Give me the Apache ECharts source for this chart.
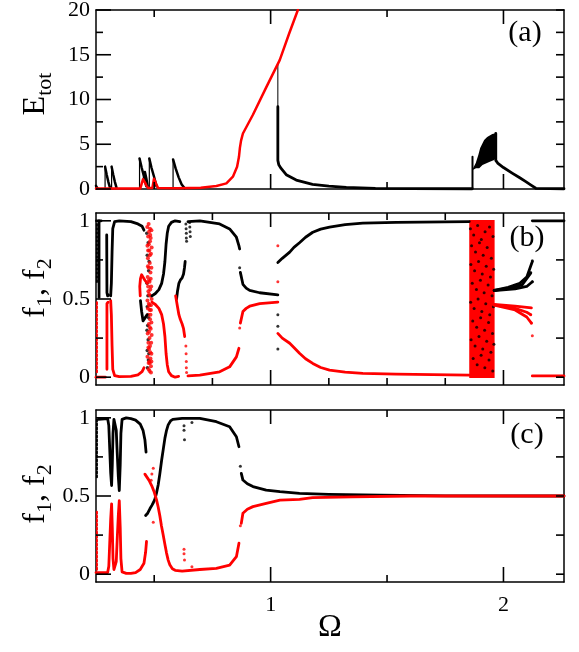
<!DOCTYPE html>
<html><head><meta charset="utf-8">
<script src="https://cdn.jsdelivr.net/npm/echarts@6/dist/echarts.min.js"></script>
<style>html,body{margin:0;padding:0;background:#fff}#c{width:579px;height:652px}</style>
</head><body><div id="c"></div>
<script>
// ---------------- axes / ticks ----------------
const omegaRange = [0.25, 2.26];
const xMajorTicks = [1, 2];
const xMinorTicksAC = [0.5, 1.5];
const xMinorTicksB = [0.5, 0.75, 1.25, 1.5, 1.75];
const eRange = [0, 20];
const eMajorTicks = [0, 5, 10, 15, 20];
const eMinorTicks = [2.5, 7.5, 12.5, 17.5];
const eRightTicks = [0, 2.5, 5, 7.5, 10, 12.5, 15, 17.5, 20];
const fRange = [-0.05, 1.05];
const fMajorTicks = [0, 0.5, 1];
const fMinorTicks = [0.25, 0.75];
const fRightTicks = [0, 0.25, 0.5, 0.75, 1];

// ---------------- panel (a): E_tot ----------------
const aBlackSpikes = [
  [[0.289,2.5],[0.296,1.6],[0.303,0.8],[0.31,0.15]],
  [[0.317,2.5],[0.324,1.6],[0.331,0.8],[0.338,0.15]],
  [[0.437,3.4],[0.446,2.4],[0.456,1.4],[0.466,0.3]],
  [[0.455,1.0],[0.46,1.9],[0.466,1.2],[0.472,0.3]],
  [[0.479,3.4],[0.488,2.4],[0.499,1.4],[0.51,0.3]],
  [[0.581,3.3],[0.592,2.3],[0.605,1.3],[0.618,0.5],[0.63,0.1]],
  [[0.25,0.35],[0.256,0.1]]
];
const aBlackRises = [
  [[0.289,0.1],[0.289,2.5]],
  [[0.317,0.1],[0.317,2.5]],
  [[0.437,0.1],[0.437,3.4]],
  [[0.479,0.1],[0.479,3.4]],
  [[0.581,0.1],[0.581,3.3]]
];
const aBlackDropThin = [[1.031,13.9],[1.031,9.2]];
const aBlackDrop = [[1.031,9.2],[1.031,3.2],[1.035,2.7],[1.045,2.3],[1.067,1.6],[1.11,1.0],[1.18,0.52],[1.25,0.32],[1.325,0.19],[1.45,0.08],[1.6,0.04],[1.866,0.03]];
const aBlackJump = [[1.867,0.1],[1.867,3.6]];
const aBlackLeaf = [[1.868,2.12],[1.882,2.31],[1.896,2.31],[1.910,2.68],[1.939,3.02],[1.960,3.24],[1.967,3.46],[1.967,6.22],[1.952,6.15],[1.930,5.81],[1.917,5.47],[1.900,4.58],[1.892,3.80],[1.881,2.90],[1.870,2.35]];
const aBlackTail = [[1.967,6.2],[1.967,3.2],[1.975,2.9],[2.0,2.4],[2.039,1.75],[2.07,1.25],[2.096,0.82],[2.12,0.4],[2.139,0.08],[2.26,0.03]];
const aRed = [[0.25,0.05],[0.44,0.05],[0.445,0.2],[0.452,1.1],[0.46,0.75],[0.467,0.35],[0.474,0.1],[0.492,0.1],[0.499,1.15],[0.505,0.8],[0.511,0.4],[0.517,0.1],[0.60,0.08],[0.70,0.15],[0.767,0.34],[0.81,0.63],[0.838,1.37],[0.856,2.49],[0.864,3.6],[0.868,4.6],[0.873,5.4],[0.881,6.2],[0.924,8.3],[0.98,11.3],[1.039,14.4],[1.08,17.4],[1.117,20.0]];

// ---------------- panel (b): f1 (black), f2 (red) ----------------
const bBlack = [
  [[0.252,1.0],[0.272,1.0]],
  [[0.263,1.0],[0.263,0.51]],
  [[0.296,0.91],[0.297,0.54],[0.30,0.52],[0.304,0.525]],
  [[0.313,0.52],[0.316,0.6],[0.319,0.8],[0.322,0.95],[0.33,0.995],[0.35,1.0],[0.40,0.995],[0.43,0.98],[0.448,0.965],[0.456,0.94]],
  [[0.441,0.49],[0.446,0.42],[0.452,0.36],[0.46,0.35],[0.47,0.40]],
  [[0.49,0.52],[0.505,0.535],[0.52,0.56],[0.532,0.60],[0.54,0.66],[0.546,0.74],[0.551,0.85],[0.556,0.92],[0.562,0.965],[0.574,0.99],[0.59,1.0],[0.61,0.995]],
  [[0.596,0.50],[0.60,0.55],[0.606,0.60],[0.612,0.62],[0.62,0.635],[0.626,0.66],[0.63,0.70],[0.633,0.74]],
  [[0.645,0.995],[0.696,1.0],[0.781,0.98],[0.824,0.948],[0.853,0.895],[0.864,0.84],[0.867,0.82]],
  [[0.87,0.67],[0.881,0.594],[0.895,0.57],[0.91,0.555],[0.953,0.54],[1.031,0.527]],
  [[1.031,0.733],[1.05,0.76],[1.082,0.80],[1.10,0.83],[1.124,0.86],[1.15,0.895],[1.181,0.927],[1.215,0.947],[1.253,0.96],[1.32,0.975],[1.396,0.985],[1.539,0.99],[1.853,0.995]],
  [[1.96,0.555],[2.02,0.575],[2.07,0.60],[2.10,0.64],[2.124,0.74]],
  [[1.96,0.555],[2.03,0.57],[2.08,0.59],[2.117,0.665]],
  [[1.96,0.553],[2.05,0.565],[2.10,0.58],[2.124,0.61]],
  [[2.124,1.0],[2.26,1.0]]
];
const bBlackDotted = [[[0.254,0.98],[0.254,0.60]]];
const bBlackDots = [[0.636,0.98],[0.637,0.95],[0.638,0.92],[0.638,0.89],[0.639,0.87],[0.652,0.99],[0.653,0.96],[0.654,0.93],[0.655,0.90],[0.867,0.70],[1.031,0.40],[1.031,0.325],[1.031,0.18],[2.124,0.745],[2.117,0.67],[2.124,0.61]];
const bBlackBand = [[0.468,0.92],[0.474,0.86],[0.470,0.78],[0.476,0.68],[0.469,0.60],[0.473,0.52],[0.470,0.45],[0.476,0.38],[0.469,0.30],[0.474,0.24],[0.470,0.17],[0.475,0.11],[0.471,0.06],[0.478,0.74],[0.472,0.33],[0.477,0.15]];
const bRedBand = [[0.470,0.96],[0.478,0.93],[0.474,0.90],[0.482,0.87],[0.471,0.84],[0.479,0.81],[0.486,0.79],[0.473,0.76],[0.481,0.73],[0.476,0.70],[0.484,0.67],[0.472,0.64],[0.480,0.61],[0.487,0.58],[0.475,0.55],[0.483,0.52],[0.471,0.49],[0.479,0.46],[0.486,0.43],[0.474,0.40],[0.482,0.37],[0.477,0.34],[0.485,0.31],[0.472,0.28],[0.480,0.25],[0.487,0.22],[0.475,0.19],[0.483,0.16],[0.471,0.13],[0.479,0.10],[0.486,0.07],[0.476,0.05],[0.482,0.95],[0.485,0.89],[0.477,0.85],[0.473,0.71],[0.485,0.63],[0.478,0.53],[0.473,0.44],[0.484,0.40],[0.478,0.29],[0.475,0.22],[0.484,0.12],[0.480,0.04],
  [0.488,0.94],[0.476,0.98],[0.489,0.83],[0.481,0.78],[0.488,0.70],[0.477,0.62],[0.489,0.50],[0.481,0.43],[0.488,0.35],[0.478,0.18],[0.489,0.27],[0.481,0.09],[0.488,0.15],[0.474,0.58],[0.483,0.56],[0.482,0.20],[0.476,0.09],[0.486,0.03],[0.474,0.81],[0.483,0.91],[0.477,0.47],[0.486,0.46],[0.481,0.32],[0.488,0.10]];
const bChaosBox = [[1.853,-0.005],[1.962,1.005]];
const bBlackChaos = [[1.858,0.95],[1.872,0.91],[1.889,0.97],[1.905,0.88],[1.921,0.93],[1.940,0.96],[1.955,0.90],[1.863,0.84],[1.880,0.80],[1.897,0.86],[1.913,0.78],[1.930,0.83],[1.948,0.76],[1.860,0.72],[1.876,0.68],[1.893,0.74],[1.909,0.66],[1.926,0.71],[1.944,0.64],[1.958,0.69],[1.866,0.60],[1.884,0.56],[1.901,0.62],[1.917,0.54],[1.934,0.59],[1.951,0.52],[1.859,0.48],[1.874,0.44],[1.891,0.50],[1.907,0.42],[1.924,0.47],[1.941,0.40],[1.957,0.45],[1.868,0.36],[1.885,0.32],[1.902,0.38],[1.919,0.30],[1.936,0.35],[1.953,0.28],[1.861,0.24],[1.878,0.20],[1.895,0.26],[1.911,0.18],[1.928,0.23],[1.946,0.16],[1.959,0.21],[1.870,0.12],[1.887,0.08],[1.904,0.14],[1.920,0.06],[1.938,0.11],[1.954,0.04]];
const bRed = [
  [[0.25,0.0],[0.29,0.0]],
  [[0.297,0.05],[0.297,0.47],[0.302,0.48]],
  [[0.313,0.49],[0.316,0.4],[0.319,0.2],[0.322,0.05],[0.33,0.01],[0.35,0.003],[0.40,0.005],[0.43,0.015],[0.448,0.035],[0.456,0.06]],
  [[0.44,0.52],[0.438,0.58],[0.441,0.63],[0.446,0.655],[0.452,0.64],[0.46,0.62],[0.47,0.60]],
  [[0.49,0.48],[0.505,0.465],[0.52,0.44],[0.532,0.40],[0.54,0.34],[0.546,0.26],[0.551,0.15],[0.556,0.08],[0.562,0.035],[0.574,0.01],[0.59,0.0],[0.605,0.005]],
  [[0.592,0.52],[0.60,0.45],[0.606,0.40],[0.612,0.37],[0.62,0.34],[0.626,0.31],[0.631,0.26]],
  [[0.645,0.008],[0.696,0.013],[0.781,0.034],[0.824,0.066],[0.853,0.13],[0.864,0.185]],
  [[0.87,0.346],[0.881,0.42],[0.895,0.44],[0.91,0.454],[0.953,0.47],[1.031,0.48]],
  [[1.031,0.28],[1.05,0.25],[1.082,0.217],[1.10,0.19],[1.124,0.153],[1.15,0.118],[1.181,0.088],[1.215,0.062],[1.253,0.045],[1.32,0.032],[1.396,0.024],[1.539,0.019],[1.853,0.013]],
  [[1.96,0.465],[2.05,0.455],[2.12,0.443]],
  [[1.96,0.462],[2.05,0.44],[2.10,0.415],[2.117,0.40]],
  [[1.96,0.46],[2.05,0.43],[2.10,0.385],[2.12,0.346]],
  [[2.124,0.008],[2.26,0.008]]
];
const bRedDotted = [[[0.254,0.48],[0.254,0.03]]];
const bRedDots = [[0.636,0.20],[0.637,0.15],[0.638,0.10],[0.638,0.06],[0.639,0.03],[0.867,0.314],[1.031,0.84],[1.031,0.61],[2.124,0.265],[2.12,0.346],[2.117,0.40]];

// ---------------- panel (c) ----------------
const cBlack = [
  [[0.26,0.99],[0.30,0.995],[0.305,0.95],[0.309,0.8],[0.313,0.65],[0.317,0.567],[0.32,0.7],[0.323,0.9],[0.327,0.99],[0.333,0.985],[0.337,0.92],[0.341,0.78],[0.346,0.62],[0.35,0.535],[0.354,0.7],[0.357,0.9],[0.362,0.99],[0.38,1.0],[0.40,0.995],[0.42,0.985],[0.44,0.96],[0.452,0.92],[0.46,0.86],[0.465,0.78]],
  [[0.463,0.375],[0.472,0.39],[0.482,0.42],[0.49,0.44],[0.497,0.46],[0.503,0.48],[0.51,0.52],[0.517,0.57],[0.524,0.64],[0.532,0.73],[0.539,0.80],[0.546,0.87],[0.553,0.92],[0.56,0.955],[0.57,0.98],[0.58,0.99],[0.62,0.997],[0.696,0.997],[0.767,0.975],[0.824,0.943],[0.853,0.879],[0.864,0.815]],
  [[0.874,0.645],[0.881,0.602],[0.90,0.578],[0.924,0.56],[0.981,0.538],[1.04,0.528],[1.124,0.517],[1.25,0.511],[1.47,0.505],[1.75,0.501],[2.26,0.5]]
];
const cBlackDotted = [[[0.254,0.99],[0.254,0.62]]];
const cBlackDots = [[0.628,0.95],[0.628,0.92],[0.63,0.86],[0.662,0.97],[0.87,0.69]];
const cRed = [
  [[0.25,0.01],[0.30,0.01],[0.305,0.05],[0.309,0.2],[0.313,0.35],[0.317,0.45],[0.32,0.3],[0.323,0.1],[0.327,0.03],[0.333,0.03],[0.337,0.08],[0.341,0.22],[0.346,0.38],[0.35,0.47],[0.354,0.3],[0.357,0.1],[0.362,0.015],[0.38,0.005],[0.40,0.005],[0.42,0.01],[0.44,0.03],[0.456,0.07],[0.463,0.14],[0.467,0.21]],
  [[0.46,0.64],[0.467,0.63],[0.478,0.60],[0.489,0.567],[0.50,0.525],[0.51,0.475],[0.517,0.43],[0.524,0.375],[0.531,0.31],[0.538,0.255],[0.546,0.19],[0.553,0.135],[0.56,0.09],[0.567,0.06],[0.578,0.035],[0.59,0.025],[0.62,0.02],[0.696,0.03],[0.767,0.037],[0.824,0.058],[0.853,0.112],[0.864,0.198]],
  [[0.874,0.325],[0.881,0.39],[0.90,0.415],[0.924,0.432],[0.981,0.453],[1.04,0.474],[1.124,0.479],[1.18,0.49],[1.35,0.495],[1.6,0.5],[2.26,0.5]]
];
const cRedDotted = [[[0.254,0.40],[0.254,0.02]]];
const cRedDots = [[0.628,0.16],[0.628,0.13],[0.63,0.09],[0.662,0.047],[0.496,0.677],[0.496,0.332],[0.487,0.60],[0.49,0.64],[0.87,0.31]];

// ---------------- build ----------------
const FONT = 'Liberation Serif';
const BLACK = '#000000', RED = '#ff0000';
const grids = [
  {left:96, top:10, width:468, height:179},
  {left:96, top:213, width:468, height:172},
  {left:96, top:410, width:468, height:172}
];
grids.forEach(g => { g.containLabel = false; g.outerBoundsMode = 'none'; });
const yRanges = [eRange, fRange, fRange];

function mkX(g, pos, labels) {
  return {
    type:'value', gridIndex:g, position:pos, min:omegaRange[0], max:omegaRange[1],
    axisLine:{show:true, onZero:false, lineStyle:{color:BLACK, width:1.5}},
    axisTick:{show:false},
    axisLabel: labels ? {show:true, customValues:xMajorTicks, fontSize:22, fontFamily:FONT, color:BLACK, margin:12} : {show:false},
    splitLine:{show:false}
  };
}
function mkY(g, pos, range, ticks, labels) {
  return {
    type:'value', gridIndex:g, position:pos, min:range[0], max:range[1],
    axisLine:{show:true, onZero:false, lineStyle:{color:BLACK, width:1.5}},
    axisTick:{show:false},
    axisLabel: labels ? {show:true, customValues:ticks, fontSize:22, fontFamily:FONT, color:BLACK, margin:6} : {show:false},
    splitLine:{show:false}
  };
}
const xAxes = [], yAxes = [];
for (let g = 0; g < 3; g++) {
  xAxes.push(mkX(g, 'bottom', g === 2));
  xAxes.push(mkX(g, 'top', false));
}
yAxes.push(mkY(0, 'left', eRange, eMajorTicks, true));
yAxes.push(mkY(0, 'right', eRange, eRightTicks, false));
for (let g = 1; g < 3; g++) {
  yAxes.push(mkY(g, 'left', fRange, fMajorTicks, true));
  yAxes.push(mkY(g, 'right', fRange, fRightTicks, false));
}

const series = [];
function line(g, pts, color, width, dotted) {
  series.push({type:'line', xAxisIndex:g*2, yAxisIndex:g*2, data:pts, symbol:'none', showSymbol:false,
    animation:false, silent:true, clip:false, smooth:false,
    lineStyle:{color, width, type: dotted ? [2,2] : 'solid', cap:'round', join:'round'}});
}
function dots(g, pts, color, size) {
  series.push({type:'scatter', xAxisIndex:g*2, yAxisIndex:g*2, data:pts, symbol:'circle', symbolSize:size,
    itemStyle:{color}, animation:false, silent:true});
}
function poly(g, pts, color) {
  series.push({type:'custom', xAxisIndex:g*2, yAxisIndex:g*2, data:pts, animation:false, silent:true, clip:true,
    renderItem:(params, api) => params.dataIndex === 0 ?
      {type:'polygon', shape:{points: pts.map(p => api.coord(p))}, style:{fill:color}} : null});
}

// panel a
aBlackRises.forEach(s => line(0, s, BLACK, 1.2));
aBlackSpikes.forEach(s => line(0, s, BLACK, 2.5));
line(0, aBlackDropThin, BLACK, 1);
line(0, aBlackDrop, BLACK, 2.8);
line(0, aBlackJump, BLACK, 2);
poly(0, aBlackLeaf, BLACK);
line(0, aBlackTail, BLACK, 2.8);
series.push({type:'line', xAxisIndex:0, yAxisIndex:0, data:aRed, symbol:'none', animation:false, silent:true, clip:true,
  lineStyle:{color:RED, width:2.5, cap:'round', join:'round'}});

// panel b
bBlack.forEach(s => line(1, s, BLACK, 2.8));
bBlackDotted.forEach(s => line(1, s, BLACK, 2, true));
dots(1, bBlackDots, BLACK, 3);
dots(1, bBlackBand, BLACK, 3.5);
bRed.forEach(s => line(1, s, RED, 2.8));
bRedDotted.forEach(s => line(1, s, RED, 2, true));
dots(1, bRedDots, RED, 3);
dots(1, bRedBand, RED, 4);
const box = bChaosBox;
poly(1, [[box[0][0],box[0][1]],[box[1][0],box[0][1]],[box[1][0],box[1][1]],[box[0][0],box[1][1]]], RED);
dots(1, bBlackChaos, BLACK, 3);

// panel c
cBlack.forEach(s => line(2, s, BLACK, 2.8));
cBlackDotted.forEach(s => line(2, s, BLACK, 2, true));
dots(2, cBlackDots, BLACK, 3);
cRed.forEach(s => line(2, s, RED, 2.8));
cRedDotted.forEach(s => line(2, s, RED, 2, true));
dots(2, cRedDots, RED, 3);

function label(x, y, text, size) {
  return {type:'text', x, y, z:100, style:{text, font:(size || 30) + 'px ' + FONT, fill:BLACK, textAlign:'center', textVerticalAlign:'middle', align:'center', verticalAlign:'middle'}};
}
function rotLabel(x, y, text) {
  return {type:'text', x, y, rotation:Math.PI/2, z:100, style:{text, fill:BLACK,
    textAlign:'center', textVerticalAlign:'middle', align:'center', verticalAlign:'middle',
    rich:{m:{fontSize:32, fontFamily:FONT, lineHeight:40, fill:BLACK}, s:{fontSize:22, fontFamily:FONT, lineHeight:22, verticalAlign:'bottom', fill:BLACK}}}};
}

const chart = echarts.init(document.getElementById('c'), null, {renderer:'canvas'});
chart.setOption({
  animation:false,
  backgroundColor:'#ffffff',
  grid: grids,
  xAxis: xAxes,
  yAxis: yAxes,
  series
});

// tick marks placed with the chart's own coordinate conversion (lengths in pixels)
const tickGraphics = [];
function addTicks(g, xMinor, yMajor, yMinor, yRight) {
  const yr = yRanges[g];
  const c = (x, y) => chart.convertToPixel({gridIndex: g}, [x, y]);
  const vbar = (p, len) => ({type:'rect', z:90, silent:true,
    shape:{x:p[0] - 0.8, y:Math.min(p[1], p[1] + len), width:1.6, height:Math.abs(len)}, style:{fill:BLACK}});
  const hbar = (p, len) => ({type:'rect', z:90, silent:true,
    shape:{x:Math.min(p[0], p[0] + len), y:p[1] - 0.8, width:Math.abs(len), height:1.6}, style:{fill:BLACK}});
  xMinor.forEach(v => { tickGraphics.push(vbar(c(v, yr[0]), -7)); tickGraphics.push(vbar(c(v, yr[1]), 7)); });
  xMajorTicks.forEach(v => { tickGraphics.push(vbar(c(v, yr[0]), -15)); tickGraphics.push(vbar(c(v, yr[1]), 14)); });
  yMajor.forEach(v => tickGraphics.push(hbar(c(omegaRange[0], v), 15)));
  yMinor.forEach(v => tickGraphics.push(hbar(c(omegaRange[0], v), 7)));
  yRight.forEach(v => tickGraphics.push(hbar(c(omegaRange[1], v), -8)));
}
addTicks(0, xMinorTicksAC, eMajorTicks, eMinorTicks, eRightTicks);
addTicks(1, xMinorTicksB, fMajorTicks, fMinorTicks, fRightTicks);
addTicks(2, xMinorTicksAC, fMajorTicks, fMinorTicks, fRightTicks);

chart.setOption({
  graphic: [
    label(525, 33, '(a)'),
    label(527, 238, '(b)'),
    label(527, 435, '(c)'),
    label(330, 628, 'Ω', 32),
    rotLabel(36, 94, '{m|E}{s|tot}'),
    rotLabel(36, 288, '{m|f}{s|1}{m|, f}{s|2}'),
    rotLabel(36, 494, '{m|f}{s|1}{m|, f}{s|2}')
  ].concat(tickGraphics)
});
</script></body></html>
